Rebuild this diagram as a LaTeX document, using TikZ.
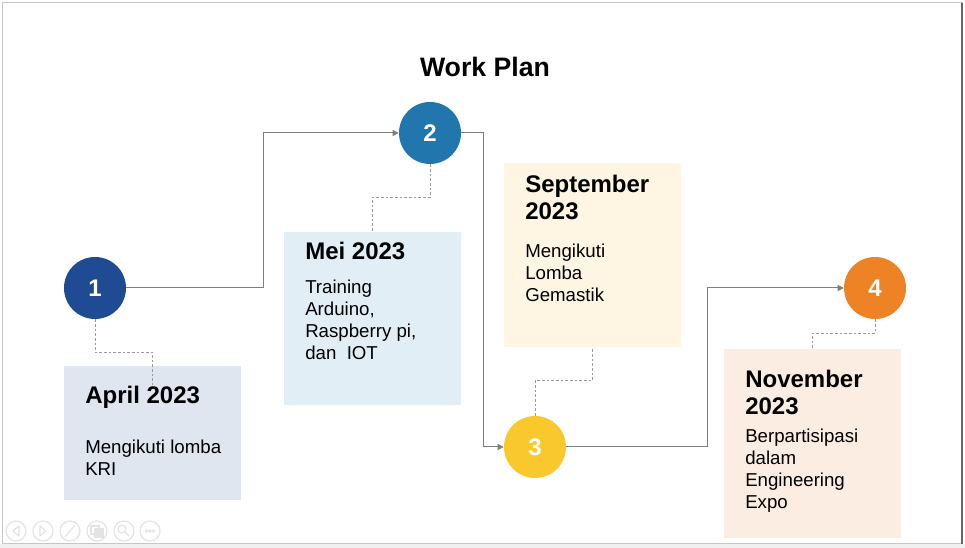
\documentclass[tikz,border=0pt]{standalone}
\usepackage{fontspec}
\setmainfont{Liberation Sans}
\definecolor{PlanBlue}{HTML}{1F4A94}
\definecolor{PlanSky}{HTML}{2176AE}
\definecolor{PlanYellow}{HTML}{F8C82D}
\definecolor{PlanOrange}{HTML}{EE8325}
\definecolor{PlanLine}{HTML}{7F7F7F}
\definecolor{PlanDash}{HTML}{9A9A9A}
\definecolor{CardBlue}{HTML}{DFE6F0}
\definecolor{CardSky}{HTML}{E2EEF5}
\definecolor{CardYellow}{HTML}{FEF6E3}
\definecolor{CardOrange}{HTML}{FCEDE3}
\usetikzlibrary{arrows.meta,positioning}
\tikzset{
  stage/.style={circle, minimum size=46.5pt, inner sep=0pt, text=white, font=\fontsize{18}{18}\selectfont\bfseries},
  card/.style={minimum width=132.75pt, inner sep=0pt},
  heading/.style={align=left, inner sep=0pt, font=\fontsize{18}{20.5}\selectfont\bfseries},
  body/.style={align=left, inner sep=0pt, font=\fontsize{14}{16.5}\selectfont},
  flow/.style={-{Triangle[length=4.5pt,width=4.5pt]}, line width=0.75pt, PlanLine},
  link/.style={line width=0.75pt, PlanDash, dash pattern=on 2pt off 1.5pt},
  ctrl/.style={draw=gray!22, line width=0.9pt}
}
\begin{document}
\begin{tikzpicture}[x=0.75pt, y=-0.75pt]
  \useasboundingbox (0,0) rectangle (965,548);
  % slide frame
  \fill[white] (0,0) rectangle (965,548);
  \fill[gray!12] (0,544) rectangle (965,548);
  \draw[gray!45, line width=0.75pt] (2,3) rectangle (962,544);
  \draw[gray!80!black, line width=1pt] (962,3) -- (962,544);

  \node[font=\fontsize{20}{20}\selectfont\bfseries, anchor=base] (title) at (485,77) {Work Plan};

  % cards
  \node[card, fill=CardBlue, minimum height=100.5pt] (apr) at (152.5,433) {};
  \node[card, fill=CardSky, minimum height=129.75pt] (mei) at (372.5,318.5) {};
  \node[card, fill=CardYellow, minimum height=138pt] (sep) at (592.5,255) {};
  \node[card, fill=CardOrange, minimum height=141.75pt] (nov) at (812.5,443.5) {};

  % stages
  \node[stage, fill=PlanBlue] (s1) at (95,288) {1};
  \node[stage, fill=PlanSky] (s2) at (430,133) {2};
  \node[stage, fill=PlanYellow] (s3) at (535,447) {3};
  \node[stage, fill=PlanOrange] (s4) at (875,288) {4};

  \draw[flow] (s1.east) -- ++(137,0) |- (s2.west);
  \draw[flow] (s2.east) -- ++(22,0) |- (s3.west);
  \draw[flow] (s3.east) -- ++(141,0) |- (s4.west);

  \draw[link] (s1.south) -- ++(0,33) -| (apr.north) -- ++(0,19);
  \draw[link] (s2.south) -- ++(0,33) -| (mei.north);
  \draw[link] (s3.north) -- ++(0,-35) -| (sep.south);
  \draw[link] (s4.south) -- ++(0,14) -| (nov.north);

  % card texts
  \node[heading, anchor=base west] (aprT) at (85,404) {April 2023};
  \node[body, anchor=north west] (aprB) at (85,439.6) {Mengikuti lomba\\KRI};
  \node[heading, anchor=base west] (meiT) at (305,260) {Mei 2023};
  \node[body, anchor=north west] (meiB) at (305,279.6) {Training\\Arduino,\\Raspberry pi,\\dan~~IOT};
  \node[heading, anchor=north west] (sepT) at (525,174.8) {September\\2023};
  \node[body, anchor=north west] (sepB) at (525,243.6) {Mengikuti\\Lomba\\Gemastik};
  \node[heading, anchor=north west] (novT) at (745,369.8) {November\\2023};
  \node[body, anchor=north west] (novB) at (745,428.6) {Berpartisipasi\\dalam\\Engineering\\Expo};

  % viewer controls
  \foreach \cx in {16,43,70,97,124,150}
    \draw[ctrl] (\cx,531) circle (10);
  \draw[ctrl, line join=round] (19,526) -- (13,531) -- (19,536) -- cycle;
  \draw[ctrl, line join=round] (40,526) -- (46,531) -- (40,536) -- cycle;
  \draw[ctrl] (65,537) -- (75,525);
  \draw[ctrl] (91,526) rectangle (99,534);
  \draw[ctrl, fill=gray!22] (95,529) rectangle (103,537);
  \draw[ctrl] (122,529) circle (4);
  \draw[ctrl] (125,532) -- (129,536);
  \foreach \dx in {-3.5,0,3.5}
    \draw[ctrl, line width=0.6pt] (150+\dx,531) circle (1.2);
\end{tikzpicture}
\end{document}
